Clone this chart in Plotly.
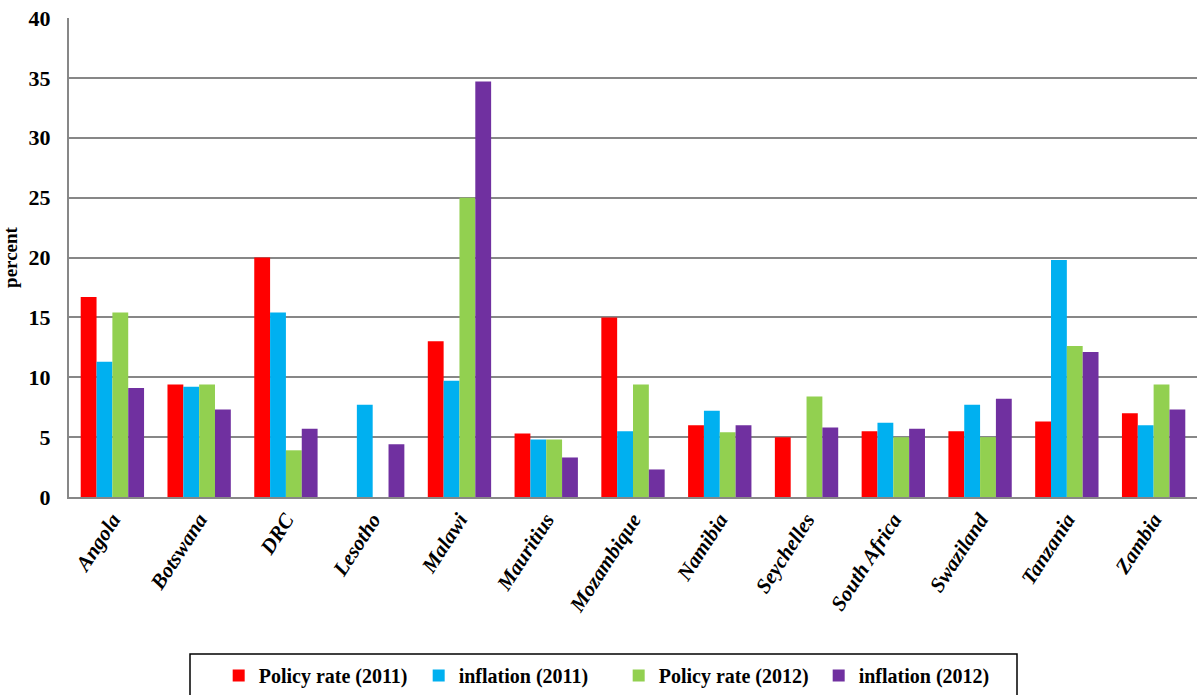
import plotly.graph_objects as go

countries = ["Angola", "Botswana", "DRC", "Lesotho", "Malawi", "Mauritius", "Mozambique",
             "Namibia", "Seychelles", "South Africa", "Swaziland", "Tanzania", "Zambia"]

policy_2011 = [16.7, 9.4, 20.0, None, 13.0, 5.3, 15.0, 6.0, 5.0, 5.5, 5.5, 6.3, 7.0]
inflation_2011 = [11.3, 9.2, 15.4, 7.7, 9.7, 4.8, 5.5, 7.2, None, 6.2, 7.7, 19.8, 6.0]
policy_2012 = [15.4, 9.4, 3.9, None, 25.0, 4.8, 9.4, 5.4, 8.4, 5.0, 5.0, 12.6, 9.4]
inflation_2012 = [9.1, 7.3, 5.7, 4.4, 34.7, 3.3, 2.3, 6.0, 5.8, 5.7, 8.2, 12.1, 7.3]

series = [
    ("Policy rate (2011)", policy_2011, "#FF0000"),
    ("inflation (2011)", inflation_2011, "#00B0F0"),
    ("Policy rate (2012)", policy_2012, "#92D050"),
    ("inflation (2012)", inflation_2012, "#7030A0"),
]

SERIF = "Liberation Serif"
GRID = "#878787"

fig = go.Figure()
for name, vals, color in series:
    fig.add_trace(go.Bar(
        x=countries, y=vals, name=name,
        marker=dict(color=color, line=dict(width=0)),
    ))

fig.update_layout(
    width=1199, height=695,
    margin=dict(l=69, r=2, t=18, b=198),
    paper_bgcolor="white", plot_bgcolor="white",
    barmode="group", bargap=0.27, bargroupgap=0,
    font=dict(family=SERIF, color="black"),
    showlegend=True,
    legend=dict(
        orientation="h",
        xref="container", yref="container",
        x=0.516, xanchor="center",
        y=1 - 656 / 695, yanchor="top",
        font=dict(family=SERIF, size=20, color="black", weight="bold"),
        bgcolor="rgba(0,0,0,0)", borderwidth=0,
        itemwidth=30, traceorder="normal",
        entrywidth=155, entrywidthmode="pixels",
    ),
    shapes=[dict(
        type="rect", xref="paper", yref="paper",
        x0=(190 - 69) / 1128, x1=(1017 - 69) / 1128,
        y0=-0.45, y1=(497 - 654) / 479,
        line=dict(color="black", width=1.5), fillcolor="rgba(0,0,0,0)",
        layer="above",
    )],
)

fig.update_yaxes(
    range=[0, 40], dtick=5, tick0=0,
    showgrid=True, gridcolor=GRID, gridwidth=2,
    showline=True, linecolor=GRID, linewidth=2,
    zeroline=False, ticks="", ticklabelstandoff=12,
    tickfont=dict(family=SERIF, size=22, color="black", weight="bold"),
    title=dict(text="percent", standoff=12,
               font=dict(family=SERIF, size=19, color="black", weight="bold")),
)
fig.update_xaxes(
    showline=True, linecolor=GRID, linewidth=2,
    showgrid=False, ticks="", tickangle=-57,
    tickfont=dict(family=SERIF, size=21, color="black", weight="bold", style="italic"),
)

fig.write_html("out.html")
